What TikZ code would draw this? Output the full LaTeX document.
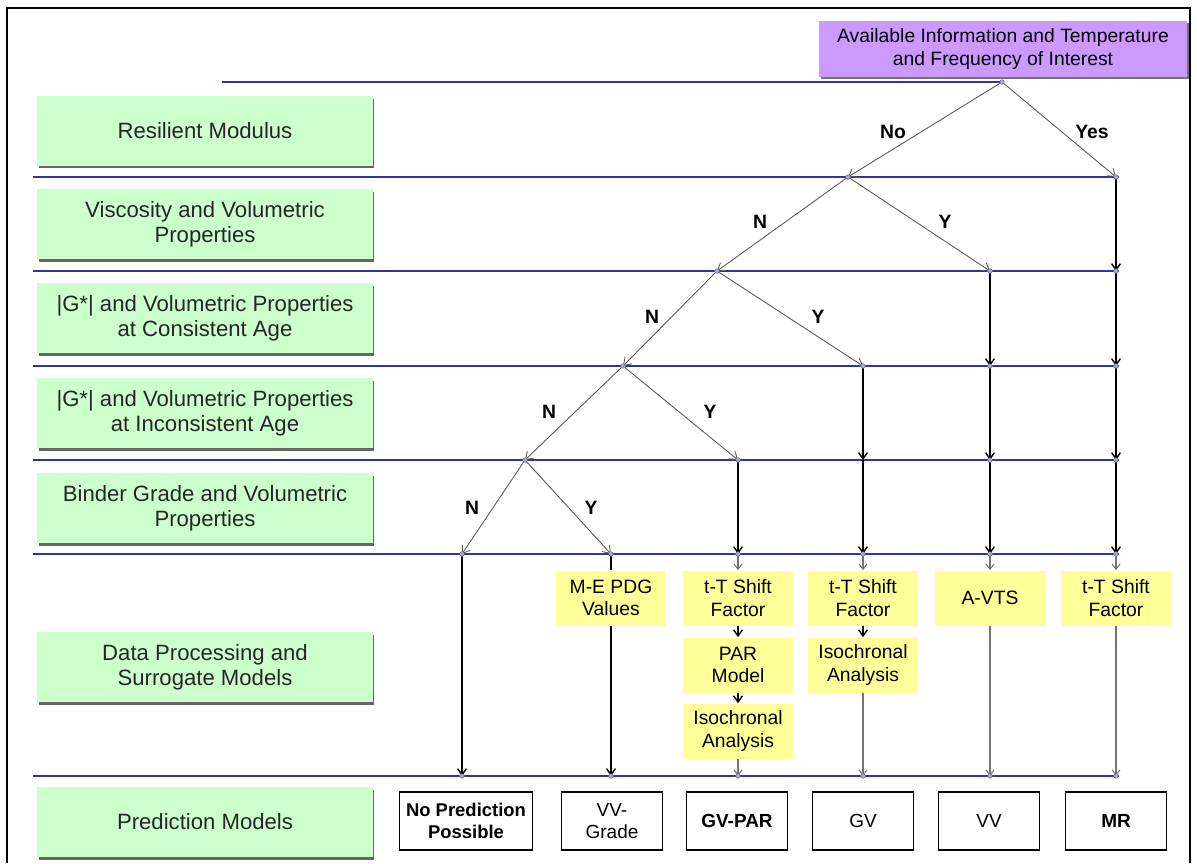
\documentclass[tikz,border=0pt]{standalone}
\usepackage{fontspec}
\setmainfont{Liberation Sans}
\usetikzlibrary{arrows.meta}
\usetikzlibrary{shadows}
\definecolor{rowgreen}{HTML}{CCFFCC}
\definecolor{topviolet}{HTML}{CC99FF}
\definecolor{boxyellow}{HTML}{FFFF99}
\definecolor{lineblue}{HTML}{33339A}
\definecolor{dotblue}{HTML}{A8A8D8}
\begin{document}
\begin{tikzpicture}
[x=0.02cm,y=-0.02cm,%
  rowbox/.style={shape=rectangle,fill=rowgreen,minimum width=6.72cm,minimum height=1.4cm,align=center,text=black!85,
    font=\fontsize{12.6}{14.2}\selectfont,drop shadow={shadow xshift=0.03cm,shadow yshift=-0.05cm,fill=black!60,opacity=1}},%
  procbox/.style={shape=rectangle,fill=boxyellow,minimum width=2.22cm,minimum height=1.1cm,inner sep=1pt,align=center,
    font=\fontsize{11}{12.9}\selectfont},%
  modelbox/.style={shape=rectangle,draw,line width=0.9pt,fill=white,minimum width=2.02cm,minimum height=1.16cm,align=center,
    font=\fontsize{10.8}{12.6}\selectfont},%
  lvl/.style={lineblue,line width=1pt},%
  yn/.style={font=\bfseries\fontsize{11}{13}\selectfont},%
  tree/.style={black!65,line width=0.5pt,-{Straight Barb[length=4pt,width=5.5pt]}},%
  down/.style={black,line width=0.8pt,-{Straight Barb[length=3.5pt,width=5pt]}},%
  thin down/.style={black!55,line width=0.6pt,-{Straight Barb[length=3pt,width=4.5pt]}},%
  jdot/.style={fill=dotblue,draw=lineblue!70,line width=0.3pt}]
\useasboundingbox (0,0) rectangle (1197,863);
\draw[line width=1.6pt] (7,863) -- (7,8) -- (1190,8) -- (1190,863);

\coordinate (j0) at (1002,82);
\coordinate (j1) at (848,177);
\coordinate (j2) at (717,271);
\coordinate (j3) at (623,366);
\coordinate (j4) at (525,460);
\foreach \c/\x in {1/462,2/611,3/738,4/863,5/990,6/1116}
  \foreach \r/\y in {1/177,2/271,3/366,4/460,5/554,6/776}
    \coordinate (c\c-\r) at (\x,\y);

\draw[lvl] (222,82) -- (j0);
\foreach \y in {177,271,366,460,554,776}
  \draw[lvl] (33,\y) -- (1119,\y);

\node[shape=rectangle,fill=topviolet,minimum width=7.38cm,minimum height=1.12cm,align=center,
  font=\fontsize{11}{13}\selectfont,drop shadow={shadow xshift=0.04cm,shadow yshift=-0.04cm,fill=black!55,opacity=1}]
  (info) at (1003,49) {Available Information and Temperature\\and Frequency of Interest};

\node[rowbox] (rm) at (205,131) {Resilient Modulus};
\node[rowbox] (visc) at (205,224) {Viscosity and Volumetric\\Properties};
\node[rowbox] (gcon) at (205,318) {\textbar G*\textbar{} and Volumetric Properties\\at Consistent Age};
\node[rowbox] (ginc) at (205,413) {\textbar G*\textbar{} and Volumetric Properties\\at Inconsistent Age};
\node[rowbox] (bind) at (205,508) {Binder Grade and Volumetric\\Properties};
\node[rowbox] (proc) at (205,667) {Data Processing and\\Surrogate Models};
\node[rowbox] (pred) at (205,822) {Prediction Models};

\draw[tree] (j0) -- (j1);
\draw[tree] (j0) -- (c6-1);
\draw[tree] (j1) -- (j2);
\draw[tree] (j1) -- (c5-2);
\draw[tree] (j2) -- (j3);
\draw[tree] (j2) -- (c4-3);
\draw[tree] (j3) -- (j4);
\draw[tree] (j3) -- (c3-4);
\draw[tree] (j4) -- (c1-5);
\draw[tree] (j4) -- (c2-5);

\node[yn] (no) at (893,132) {No};
\node[yn] (yes) at (1092,132) {Yes};
\node[yn] (n1) at (760,222) {N};
\node[yn] (y1) at (945,222) {Y};
\node[yn] (n2) at (652,317) {N};
\node[yn] (y2) at (818,317) {Y};
\node[yn] (n3) at (549,412) {N};
\node[yn] (y3) at (710,412) {Y};
\node[yn] (n4) at (472,508) {N};
\node[yn] (y4) at (591,508) {Y};

\foreach \c/\a/\b in {6/1/2,6/2/3,6/3/4,6/4/5,5/2/3,5/3/4,5/4/5,4/3/4,4/4/5,3/4/5}
  \draw[down] (c\c-\a) -- (c\c-\b);

\node[procbox] (me) at (611,598) {M-E PDG\\Values};
\node[procbox] (tt1) at (738,598) {t-T Shift\\Factor};
\node[procbox] (par) at (738,665) {PAR\\Model};
\node[procbox] (iso1) at (738,731) {Isochronal\\Analysis};
\node[procbox] (tt2) at (863,598) {t-T Shift\\Factor};
\node[procbox] (iso2) at (863,665) {Isochronal\\Analysis};
\node[procbox] (avts) at (990,598) {A-VTS};
\node[procbox] (tt3) at (1116,598) {t-T Shift\\Factor};

\draw[down] (c1-5) -- (c1-6);
\draw[black,line width=0.8pt] (c2-5) -- (me);
\draw[down] (me) -- (c2-6);
\draw[thin down] (c3-5) -- (tt1);
\draw[down] (tt1) -- (par);
\draw[down] (par) -- (iso1);
\draw[thin down] (iso1) -- (c3-6);
\draw[thin down] (c4-5) -- (tt2);
\draw[down] (tt2) -- (iso2);
\draw[thin down] (iso2) -- (c4-6);
\draw[thin down] (c5-5) -- (avts);
\draw[thin down] (avts) -- (c5-6);
\draw[thin down] (c6-5) -- (tt3);
\draw[thin down] (tt3) -- (c6-6);

\foreach \p in {j0,j1,j2,j3,j4,c6-1,c5-2,c4-3,c3-4,c6-2,c6-3,c6-4,c5-3,c5-4}
  \filldraw[jdot] (\p) circle[radius=1.3pt];
\foreach \c in {1,...,6}
  \foreach \r in {5,6}
    \filldraw[jdot] (c\c-\r) circle[radius=1.3pt];

\node[modelbox,minimum width=2.66cm,font=\bfseries\fontsize{10.5}{12.4}\selectfont] (np) at (466,821) {No Prediction\\Possible};
\node[modelbox] (vvg) at (612,821) {VV-\\Grade};
\node[modelbox,font=\bfseries\fontsize{10.8}{12.6}\selectfont] (gvp) at (737,821) {GV-PAR};
\node[modelbox] (gv) at (863,821) {GV};
\node[modelbox] (vv) at (989,821) {VV};
\node[modelbox,font=\bfseries\fontsize{10.8}{12.6}\selectfont] (mr) at (1116,821) {MR};
\end{tikzpicture}
\end{document}
